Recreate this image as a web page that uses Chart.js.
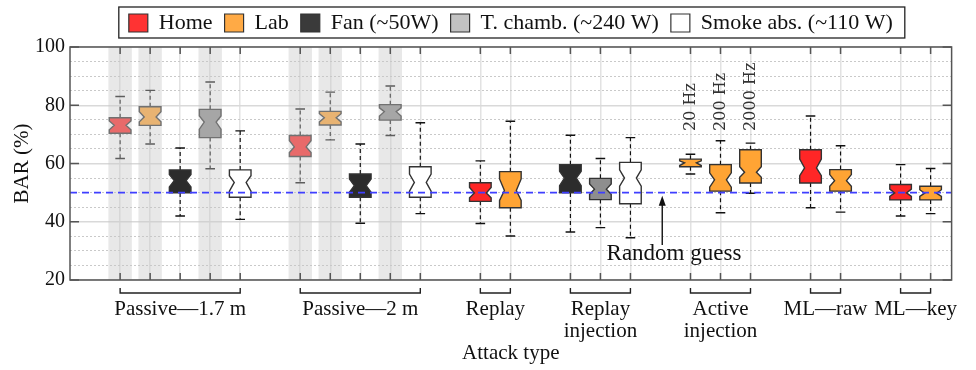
<!DOCTYPE html>
<html>
<head>
<meta charset="utf-8">
<script src="https://cdn.jsdelivr.net/npm/chart.js@4.4.1/dist/chart.umd.min.js"></script>
<style>
    html, body { margin: 0; padding: 0; background: #fff; }
    #wrap { width: 976px; height: 370px; }
</style>
</head>
<body>
<div id="wrap"><canvas id="BarChart"></canvas></div>
<script>
const SERIES = ['Home', 'Lab', 'Fan (~50W)', 'T. chamb. (~240 W)', 'Smoke abs. (~110 W)'];
const LEGEND_COLORS = ['#ff3333', '#ffaa45', '#3a3a3a', '#c2c2c2', '#ffffff'];
const BOX_COLORS = ['#ff2626', '#ffa434', '#2c2c2c', '#8e8e8e', '#ffffff'];

const GROUP_LABELS = [['Passive—1.7 m'], ['Passive—2 m'], ['Replay'], ['Replay', 'injection'], ['Active', 'injection'], ['ML—raw'], ['ML—key']];
const GROUP_FIRST = [0, 6, 12, 15, 19, 23, 26];
const GROUP_LAST = [4, 10, 13, 17, 21, 24, 27];

// one entry per box
const BOX_POSITIONS = [0, 1, 2, 3, 4, 6, 7, 8, 9, 10, 12, 13, 15, 16, 17, 19, 20, 21, 23, 24, 26, 27];
const BOX_SERIES = [0, 1, 2, 3, 4, 0, 1, 2, 3, 4, 0, 1, 2, 3, 4, 1, 1, 1, 0, 1, 0, 1];
const WHISKER_LOW = [61.7, 66.7, 42.0, 58.2, 40.8, 53.4, 68.1, 39.5, 69.6, 42.8, 39.4, 35.1, 36.5, 38.0, 34.5, 56.4, 43.1, 49.8, 44.8, 43.3, 42.0, 42.8];
const Q1 = [70.4, 73.1, 49.9, 68.9, 48.4, 62.4, 73.2, 48.4, 74.9, 48.4, 47.0, 44.8, 49.9, 47.6, 46.2, 58.9, 50.5, 53.3, 53.3, 50.5, 47.5, 47.5];
const NOTCH_LOW = [71.6, 74.3, 51.9, 71.8, 50.5, 63.8, 74.3, 50.1, 76.3, 50.5, 48.2, 47.3, 52.4, 49.4, 52.2, 59.3, 51.9, 55.3, 55.8, 52.2, 48.7, 48.7];
const MEDIAN = [73.1, 76.0, 54.1, 74.2, 53.5, 65.7, 75.7, 52.4, 77.8, 53.5, 49.9, 50.7, 55.0, 51.2, 55.0, 60.2, 54.4, 57.0, 58.5, 54.1, 49.9, 49.8];
const NOTCH_HIGH = [74.6, 77.8, 56.2, 76.3, 55.8, 67.8, 77.1, 54.7, 79.1, 56.4, 51.8, 54.7, 57.3, 53.0, 57.8, 60.9, 56.8, 58.9, 61.5, 56.2, 51.2, 51.0];
const Q3 = [75.7, 79.5, 57.8, 78.6, 57.8, 69.6, 77.9, 56.4, 80.2, 58.9, 53.4, 57.2, 59.6, 54.9, 60.4, 61.5, 59.6, 64.7, 64.7, 57.9, 52.8, 52.2];
const WHISKER_HIGH = [83.0, 85.1, 65.3, 88.0, 71.2, 78.7, 84.5, 66.7, 86.6, 74.0, 60.9, 74.5, 69.7, 61.7, 68.9, 63.2, 67.8, 67.0, 76.3, 66.1, 59.6, 58.3];

const SHADED_POSITIONS = [0, 1, 3, 6, 7, 9];
const FREQ_LABELS = ['20 Hz', '200 Hz', '2000 Hz'];
const FREQ_POSITIONS = [19, 20, 21];
const FREQ_LABEL_BASE = 71.2;
const CHANCE_LEVEL = 50;
const CHANCE_TEXT = 'Random guess';
const CHANCE_TEXT_AT = [18.45, 26.8];
const CHANCE_ARROW_X = 18.06;
const CHANCE_ARROW_FROM = 32.0;

const SERIF = 'Liberation Serif';
const FRAME = '#555';

function groupCenters() {
    return GROUP_FIRST.map((f, i) => (f + GROUP_LAST[i]) / 2);
}

// notched boxes, whiskers, shaded columns and the chance line
const boxPlotPlugin = {
    id: 'boxPlot',
    afterDatasetsDraw(chart) {
        const {ctx, chartArea: area, scales: {x, y}} = chart;
        const unit = x.getPixelForValue(1) - x.getPixelForValue(0);
        const hw = unit * 0.36, nw = hw * 0.55, cw = unit * 0.16;
        ctx.save();
        ctx.beginPath();
        ctx.rect(area.left, area.top, area.width, area.height);
        ctx.clip();

        BOX_POSITIONS.forEach((pos, i) => {
            const cx = x.getPixelForValue(pos);
            const yLo = y.getPixelForValue(WHISKER_LOW[i]);
            const yQ1 = y.getPixelForValue(Q1[i]);
            const yNLo = y.getPixelForValue(NOTCH_LOW[i]);
            const yMed = y.getPixelForValue(MEDIAN[i]);
            const yNHi = y.getPixelForValue(NOTCH_HIGH[i]);
            const yQ3 = y.getPixelForValue(Q3[i]);
            const yHi = y.getPixelForValue(WHISKER_HIGH[i]);

            ctx.strokeStyle = '#111';
            ctx.lineWidth = 1.2;
            ctx.setLineDash([4, 3]);
            ctx.beginPath();
            ctx.moveTo(cx, yQ3); ctx.lineTo(cx, yHi);
            ctx.moveTo(cx, yQ1); ctx.lineTo(cx, yLo);
            ctx.stroke();
            ctx.setLineDash([]);
            ctx.lineWidth = 1.4;
            ctx.beginPath();
            ctx.moveTo(cx - cw, yHi); ctx.lineTo(cx + cw, yHi);
            ctx.moveTo(cx - cw, yLo); ctx.lineTo(cx + cw, yLo);
            ctx.stroke();

            ctx.beginPath();
            ctx.moveTo(cx - hw, yQ3);
            ctx.lineTo(cx + hw, yQ3);
            ctx.lineTo(cx + hw, yNHi);
            ctx.lineTo(cx + nw, yMed);
            ctx.lineTo(cx + hw, yNLo);
            ctx.lineTo(cx + hw, yQ1);
            ctx.lineTo(cx - hw, yQ1);
            ctx.lineTo(cx - hw, yNLo);
            ctx.lineTo(cx - nw, yMed);
            ctx.lineTo(cx - hw, yNHi);
            ctx.closePath();
            ctx.fillStyle = BOX_COLORS[BOX_SERIES[i]];
            ctx.fill();
            ctx.strokeStyle = '#333';
            ctx.lineWidth = 1.4;
            ctx.stroke();
        });

        ctx.fillStyle = 'rgba(200, 200, 200, 0.42)';
        SHADED_POSITIONS.forEach(pos => {
            const l = x.getPixelForValue(pos - 0.39);
            const r = x.getPixelForValue(pos + 0.39);
            ctx.fillRect(l, area.top, r - l, area.height);
        });

        const yc = y.getPixelForValue(CHANCE_LEVEL);
        ctx.strokeStyle = '#3f3fff';
        ctx.lineWidth = 1.7;
        ctx.setLineDash([7, 5]);
        ctx.beginPath();
        ctx.moveTo(area.left, yc);
        ctx.lineTo(area.right, yc);
        ctx.stroke();
        ctx.restore();
    }
};

// frame, inward ticks, group brackets, notes and legend border
const decorPlugin = {
    id: 'decor',
    afterInit(chart) {
        // a little extra room under the legend row
        const legend = chart.legend;
        const fit = legend.fit.bind(legend);
        legend.fit = function () {
            fit();
            this.height += 3;
        };
    },
    afterDraw(chart) {
        const {ctx, chartArea: area, scales: {x, y}} = chart;
        ctx.save();
        ctx.strokeStyle = FRAME;
        ctx.lineWidth = 1.5;
        ctx.strokeRect(area.left, area.top, area.width, area.height);

        ctx.beginPath();
        [20, 40, 60, 80, 100].forEach(v => {
            const py = y.getPixelForValue(v);
            ctx.moveTo(area.left, py); ctx.lineTo(area.left + 9, py);
            ctx.moveTo(area.right, py); ctx.lineTo(area.right - 9, py);
        });
        BOX_POSITIONS.forEach(pos => {
            const px = x.getPixelForValue(pos);
            ctx.moveTo(px, area.bottom); ctx.lineTo(px, area.bottom - 7);
            ctx.moveTo(px, area.top); ctx.lineTo(px, area.top + 7);
        });
        ctx.stroke();

        ctx.strokeStyle = '#222';
        ctx.lineWidth = 1.4;
        ctx.beginPath();
        GROUP_FIRST.forEach((f, i) => {
            const l = x.getPixelForValue(f);
            const r = x.getPixelForValue(GROUP_LAST[i]);
            ctx.moveTo(l, area.bottom + 8);
            ctx.lineTo(l, area.bottom + 13);
            ctx.lineTo(r, area.bottom + 13);
            ctx.lineTo(r, area.bottom + 8);
        });
        ctx.stroke();

        ctx.fillStyle = '#333';
        ctx.font = '16px "DejaVu Serif"';
        ctx.textAlign = 'left';
        ctx.textBaseline = 'middle';
        FREQ_LABELS.forEach((t, i) => {
            ctx.save();
            ctx.translate(x.getPixelForValue(FREQ_POSITIONS[i]), y.getPixelForValue(FREQ_LABEL_BASE));
            ctx.rotate(-Math.PI / 2);
            ctx.fillText(t, 0, 0);
            ctx.restore();
        });

        ctx.fillStyle = '#111';
        ctx.font = '23px "' + SERIF + '"';
        ctx.textAlign = 'center';
        ctx.textBaseline = 'alphabetic';
        ctx.fillText(CHANCE_TEXT, x.getPixelForValue(CHANCE_TEXT_AT[0]), y.getPixelForValue(CHANCE_TEXT_AT[1]));
        const ax = x.getPixelForValue(CHANCE_ARROW_X);
        const aTip = y.getPixelForValue(CHANCE_LEVEL) + 3;
        ctx.strokeStyle = '#111';
        ctx.lineWidth = 1.4;
        ctx.beginPath();
        ctx.moveTo(ax, y.getPixelForValue(CHANCE_ARROW_FROM));
        ctx.lineTo(ax, aTip + 8);
        ctx.stroke();
        ctx.beginPath();
        ctx.moveTo(ax, aTip);
        ctx.lineTo(ax - 3.5, aTip + 10);
        ctx.lineTo(ax + 3.5, aTip + 10);
        ctx.closePath();
        ctx.fill();

        const boxes = chart.legend.legendHitBoxes;
        if (boxes.length) {
            const l = Math.min(...boxes.map(b => b.left)) - 10;
            const r = Math.max(...boxes.map(b => b.left + b.width)) + 12;
            const t = boxes[0].top - 5;
            const b = boxes[0].top + boxes[0].height + 4;
            ctx.strokeStyle = '#222';
            ctx.lineWidth = 1.3;
            ctx.strokeRect(l, t, r - l, b - t);
        }
        ctx.restore();
    }
};

const datasets = SERIES.map((name, s) => ({
    label: name,
    data: BOX_POSITIONS.map((pos, i) => ({x: pos, y: MEDIAN[i], s: BOX_SERIES[i]})).filter(d => d.s === s),
    backgroundColor: LEGEND_COLORS[s],
    borderColor: '#333',
    borderWidth: 1.2,
    pointRadius: 0,
}));

Chart.defaults.font.family = SERIF;
Chart.defaults.color = '#111';

let ctx = document.getElementById('BarChart').getContext('2d');

window.BPChart = new Chart(ctx, {
    type: 'scatter',
    data: { datasets: datasets },
    plugins: [boxPlotPlugin, decorPlugin],
    options: {
        animation: false,
        responsive: true,
        maintainAspectRatio: false,
        events: [],
        layout: { padding: { left: 10, right: 14, top: 0, bottom: 0 } },
        plugins: {
            tooltip: { enabled: false },
            legend: {
                position: 'top',
                fullSize: false,
                labels: {
                    boxWidth: 19,
                    boxHeight: 18,
                    padding: 12,
                    color: '#111',
                    font: { size: 22 }
                }
            }
        },
        scales: {
            x: {
                type: 'linear',
                min: -1.67,
                max: 27.7,
                afterBuildTicks: scale => { scale.ticks = BOX_POSITIONS.map(v => ({value: v})); },
                afterFit: scale => { scale.height = 0; },
                ticks: { display: false },
                grid: { color: '#e2e2e2', lineWidth: 1.5, drawTicks: false },
                border: { display: false }
            },
            xg: {
                type: 'linear',
                position: 'bottom',
                weight: 1,
                min: -1.67,
                max: 27.7,
                afterBuildTicks: scale => { scale.ticks = groupCenters().map(v => ({value: v})); },
                afterFit: scale => { scale.height = 90; },
                ticks: {
                    autoSkip: false,
                    maxRotation: 0,
                    padding: 18,
                    color: '#111',
                    font: { size: 21, lineHeight: 1.05 },
                    callback: (v, i) => GROUP_LABELS[i]
                },
                grid: { display: false, drawTicks: false },
                border: { display: false },
                title: { display: true, text: 'Attack type', color: '#111', font: { size: 21 }, padding: { top: 0, bottom: 4 } }
            },
            y: {
                min: 20,
                max: 100,
                afterFit: scale => { scale.width = 60; },
                ticks: {
                    stepSize: 5,
                    autoSkip: false,
                    padding: 5,
                    color: '#111',
                    font: { size: 20 },
                    callback: v => v % 20 === 0 ? v : ''
                },
                grid: {
                    color: c => c.tick && c.tick.value % 20 === 0 ? '#d9d9d9' : '#c9c9c9',
                    lineWidth: c => c.tick && c.tick.value % 20 === 0 ? 1.5 : 1,
                    drawTicks: false
                },
                border: { display: false, dash: c => c.tick && c.tick.value % 20 !== 0 ? [2, 2] : [] },
                title: { display: true, text: 'BAR (%)', color: '#111', font: { size: 21 }, padding: { top: 0, bottom: 0 } }
            }
        }
    }
});
</script>
</body>
</html>
